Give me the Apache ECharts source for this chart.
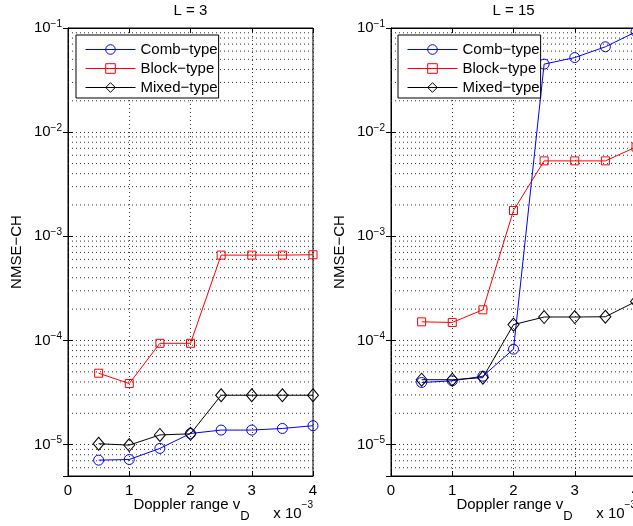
<!DOCTYPE html>
<html>
<head>
<meta charset="utf-8">
<script src="https://cdn.jsdelivr.net/npm/echarts@6/dist/echarts.min.js"></script>
<style>
  html, body { margin: 0; padding: 0; background: #fff; }
  #chart { width: 633px; height: 526px; }
</style>
</head>
<body>
<div id="chart"></div>
<script>
// Channel-estimation error (NMSE) versus normalized Doppler range, two pilot-length panels.
const seriesNames = ['Comb\u2212type', 'Block\u2212type', 'Mixed\u2212type'];
const panelTitles = ['L = 3', 'L = 15'];
const doppler = [0.5, 1, 1.5, 2, 2.5, 3, 3.5, 4]; // x 10^-3

// L = 3
const combL3   = [7.1e-6, 7.2e-6, 9.2e-6, 1.28e-5, 1.38e-5, 1.38e-5, 1.43e-5, 1.52e-5];
const blockL3  = [4.85e-5, 3.86e-5, 9.4e-5, 9.4e-5, 6.6e-4, 6.6e-4, 6.6e-4, 6.65e-4];
const mixedL3  = [1.02e-5, 0.99e-5, 1.24e-5, 1.27e-5, 2.98e-5, 2.98e-5, 2.98e-5, 2.98e-5];

// L = 15
const combL15  = [3.95e-5, 4.1e-5, 4.54e-5, 8.25e-5, 4.5e-2, 5.2e-2, 6.6e-2, 9.2e-2];
const blockL15 = [1.51e-4, 1.49e-4, 1.97e-4, 1.77e-3, 5.3e-3, 5.3e-3, 5.3e-3, 7.2e-3];
const mixedL15 = [4.2e-5, 4.2e-5, 4.4e-5, 1.42e-4, 1.68e-4, 1.68e-4, 1.69e-4, 2.37e-4];

const xTickValues = [0, 1, 2, 3, 4];
const yMin = 5e-6, yMax = 1e-1;

const FONT = '"Liberation Sans", Arial, Helvetica, sans-serif';
const BLACK = '#000';
const DOT = [1, 3];
const GRID_DOT = '#333';

const panels = [
  { grid: { left: 68, right: 320, top: 28, bottom: 50 }, center: 190.5, axisRight: 313, legendLeft: 76,
    values: [combL3, blockL3, mixedL3] },
  { grid: { left: 391, right: -3, top: 28, bottom: 50 }, center: 513.5, axisRight: 636, legendLeft: 398,
    values: [combL15, blockL15, mixedL15] }
];

const styles = [
  { color: '#0000ff', symbol: 'circle', size: 10 },
  { color: '#ff0000', symbol: 'rect', size: 8 },
  { color: '#000000', symbol: 'diamond', size: [11, 13] }
];

// minor log grid levels (2..9 x 10^k) inside the y range
const minorGrid = [];
for (let k = -6; k <= -2; k++) {
  for (let m = 2; m <= 9; m++) {
    const v = m * Math.pow(10, k);
    if (v > yMin * 1.0001 && v < yMax * 0.9999) minorGrid.push(+v.toPrecision(3));
  }
}
// one broken polyline spanning the x range at each minor level
const minorGridPath = [];
minorGrid.forEach(v => { minorGridPath.push([0, v], [4, v], [4, '-']); });

function decadeLabel(v) {
  const lg = Math.log10(v);
  const e = Math.round(lg);
  if (Math.abs(lg - e) > 1e-6) return '';
  return '{b|10}{s|\u2212' + Math.abs(e) + '}';
}

const tickRich = {
  b: { fontSize: 15, fontFamily: FONT, color: BLACK },
  s: { fontSize: 10, fontFamily: FONT, color: BLACK, padding: [0, 0, 8, 0] }
};

const grid = [], xAxis = [], yAxis = [], series = [], legend = [], graphic = [];

panels.forEach((p, gi) => {
  grid.push(Object.assign({ show: true, borderColor: BLACK, borderWidth: 1, backgroundColor: '#fff',
    containLabel: false, outerBoundsMode: 'none' }, p.grid));

  // bottom x axis with labels
  xAxis.push({
    gridIndex: gi, type: 'value', position: 'bottom', min: 0, max: 4, interval: 1,
    axisLine: { show: true, lineStyle: { color: BLACK, width: 1 } },
    axisTick: { show: true, inside: true, length: 5, lineStyle: { color: BLACK } },
    axisLabel: { show: true, color: BLACK, fontSize: 15, fontFamily: FONT, margin: 7,
      formatter: v => xTickValues.includes(v) ? String(v) : '' },
    splitLine: { show: true, lineStyle: { color: GRID_DOT, width: 1, type: DOT } }
  });
  // top x axis: ticks only
  xAxis.push({
    gridIndex: gi, type: 'value', position: 'top', min: 0, max: 4, interval: 1,
    axisLine: { show: true, lineStyle: { color: BLACK, width: 1 } },
    axisTick: { show: true, inside: true, length: 5, lineStyle: { color: BLACK } },
    axisLabel: { show: false }, splitLine: { show: false }
  });
  // left log axis with labels and name
  yAxis.push({
    gridIndex: gi, type: 'log', logBase: 10, position: 'left', min: yMin, max: yMax,
    axisLine: { show: true, lineStyle: { color: BLACK, width: 1 } },
    axisTick: { show: true, inside: true, length: 5, lineStyle: { color: BLACK } },
    axisLabel: { show: true, margin: 6, formatter: decadeLabel, rich: tickRich },
    splitLine: { show: true, lineStyle: { color: GRID_DOT, width: 1, type: DOT } },
    name: 'NMSE\u2212CH', nameLocation: 'middle', nameGap: 44, nameMoveOverlap: false,
    nameTextStyle: { color: BLACK, fontSize: 15, fontFamily: FONT }
  });
  // right log axis: ticks only
  yAxis.push({
    gridIndex: gi, type: 'log', logBase: 10, position: 'right', min: yMin, max: yMax,
    axisLine: { show: true, lineStyle: { color: BLACK, width: 1 } },
    axisTick: { show: true, inside: true, length: 5, lineStyle: { color: BLACK } },
    axisLabel: { show: false }, splitLine: { show: false }
  });

  // dotted minor grid of the log axis
  series.push({
    type: 'line', name: 'minor grid ' + gi, xAxisIndex: gi * 2, yAxisIndex: gi * 2,
    data: minorGridPath, showSymbol: false, symbol: 'none', silent: true, z: 1,
    connectNulls: false, clip: true,
    lineStyle: { color: GRID_DOT, width: 1, type: DOT },
    emphasis: { disabled: true }, tooltip: { show: false }
  });

  p.values.forEach((vals, si) => {
    const st = styles[si];
    series.push({
      type: 'line', name: seriesNames[si], xAxisIndex: gi * 2, yAxisIndex: gi * 2,
      data: doppler.map((x, k) => [x, vals[k]]),
      symbol: st.symbol, symbolSize: st.size, showSymbol: true, showAllSymbol: true,
      lineStyle: { color: st.color, width: 1 },
      itemStyle: { color: 'rgba(255,255,255,0)', borderColor: st.color, borderWidth: 1 },
      emphasis: { disabled: true }, z: 3, clip: true
    });
  });

  legend.push({
    data: seriesNames.map((name, si) => ({
      name,
      lineStyle: { color: styles[si].color, width: 1 },
      itemStyle: { color: 'rgba(255,255,255,0)', borderColor: styles[si].color, borderWidth: 1 }
    })),
    orient: 'vertical', left: p.legendLeft, top: 35,
    itemWidth: 50, itemHeight: 12, itemGap: 4,
    padding: [7, 1, 3, 9],
    backgroundColor: '#fff', borderColor: BLACK, borderWidth: 1, borderRadius: 0,
    selectedMode: false,
    textStyle: { fontSize: 15, fontFamily: FONT, color: BLACK }
  });

  graphic.push({
    type: 'text', x: p.center, y: 11, silent: true,
    style: { text: panelTitles[gi], fontSize: 15, fontFamily: FONT, fill: BLACK,
      align: 'center', verticalAlign: 'middle' }
  });
  // x-axis title with subscript D
  graphic.push({
    type: 'text', x: p.center + 1, y: 505, silent: true,
    style: { text: '{m|Doppler range v}{d|D}', fill: BLACK, fontFamily: FONT, fontSize: 15,
      align: 'center', verticalAlign: 'middle',
      rich: { m: { fontSize: 15, fontFamily: FONT, fill: BLACK },
              d: { fontSize: 13, fontFamily: FONT, fill: BLACK, padding: [23, 0, 0, 0] } } }
  });
  // exponent of the x axis
  graphic.push({
    type: 'text', x: p.axisRight, y: 514, silent: true,
    style: { text: '{a|x 10}{s|\u22123}', fill: BLACK, fontFamily: FONT, fontSize: 15,
      align: 'right', verticalAlign: 'middle',
      rich: { a: { fontSize: 15, fontFamily: FONT, fill: BLACK },
              s: { fontSize: 10, fontFamily: FONT, fill: BLACK, padding: [0, 0, 17, 0] } } }
  });
});

const chart = echarts.init(document.getElementById('chart'), null, { renderer: 'canvas' });
chart.setOption({
  animation: false,
  backgroundColor: '#fff',
  textStyle: { fontFamily: FONT },
  grid, xAxis, yAxis, series, legend, graphic
});
</script>
</body>
</html>
